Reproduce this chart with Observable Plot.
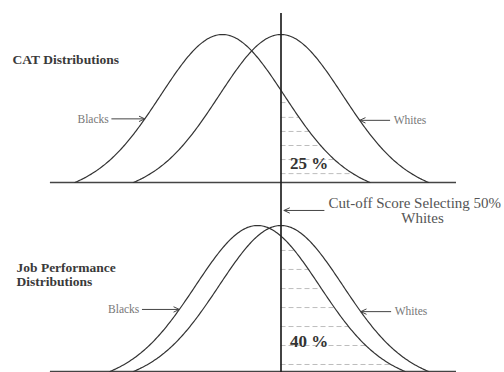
<!DOCTYPE html>
<html><head><meta charset="utf-8">
<script src="https://cdn.jsdelivr.net/npm/d3@7"></script>
<script src="https://cdn.jsdelivr.net/npm/@observablehq/plot@0.6"></script>
<style>
html,body{margin:0;padding:0;background:#fff;}
#chart svg{display:block;}
</style></head><body><div id="chart"></div>
<script>
// ---- data (x in standard-deviation units, relative to the cut-off score) ----
const panelTitles = ["CAT Distributions", "Job Performance\nDistributions"];
const groups = ["Blacks", "Whites"];
const catMeans = [-0.96, 0];
const jobMeans = [-0.385, 0];
const cutoff = 0;
const tail = 2.42;                 // curves drawn to ±tail SD
const axisExtent = [-3.78, 2.877]; // baseline extent (SD units)
const catPercent = "25 %";
const jobPercent = "40 %";
const catDashLevels = [0.06, 0.155, 0.25, 0.345, 0.44, 0.54];
const jobDashLevels = [0.048, 0.178, 0.308, 0.438, 0.568, 0.699, 0.829];
const cutoffLabel = ["Cut-off Score Selecting 50%", "Whites"];
const catArrowLevels = [0.43, 0.42];
const jobArrowLevels = [0.425, 0.41];

// ---- helpers ----
const pxPerSD = 61;
const c = Math.exp(-tail * tail / 2);
const g = z => Math.exp(-z * z / 2) - c * (z / tail) ** 2;
function inv(v) { // z >= 0 with g(z) = v
  let lo = 0, hi = tail;
  for (let i = 0; i < 60; i++) { const m = (lo + hi) / 2; if (g(m) > v) lo = m; else hi = m; }
  return (lo + hi) / 2;
}
function curves(means) {
  const pts = [];
  means.forEach((m, i) => {
    for (let k = 0; k <= 240; k++) {
      const z = -tail + 2 * tail * k / 240;
      pts.push({group: groups[i], x: m + z, y: Math.max(0, g(z))});
    }
  });
  return pts;
}
const font = "Liberation Serif, Times New Roman, serif";
const xDomain = [-280.5 / pxPerSD, 223.5 / pxPerSD];

function panel({means, dashLevels, arrowLevels, height, yRange, pct, pctY, title, titleDx, titleDy, ruleTop, extra, blackTail, whiteTail}) {
  const bTip = means[0] - inv(arrowLevels[0]);
  const wTip = means[1] + inv(arrowLevels[1]);
  const blackArrow = [{x1: bTip - blackTail / pxPerSD, x2: bTip, y: arrowLevels[0], label: groups[0]}];
  const whiteArrow = [{x1: wTip + whiteTail / pxPerSD, x2: wTip, y: arrowLevels[1], label: groups[1]}];
  const arrows = blackArrow.concat(whiteArrow);
  return Plot.plot({
    width: 504, height, margin: 0,
    style: {fontFamily: font, background: "#fff"},
    x: {domain: xDomain, axis: null},
    y: {domain: [0, 1], range: yRange, axis: null},
    marks: [
      Plot.ruleY(dashLevels, {y: d => d, x1: cutoff, x2: d => means[0] + inv(d), stroke: "#bdbdbd", strokeWidth: 1, strokeDasharray: "5,3"}),
      Plot.ruleY([0], {x1: axisExtent[0], x2: axisExtent[1], stroke: "#444", strokeWidth: 1.3}),
      Plot.line(curves(means), {x: "x", y: "y", z: "group", stroke: "#333", strokeWidth: 1.2}),
      ruleTop == null
        ? Plot.ruleX([cutoff], {stroke: "#222", strokeWidth: 1.7})
        : Plot.ruleX([cutoff], {y1: ruleTop, y2: -0.05, stroke: "#222", strokeWidth: 1.7}),
      Plot.arrow(arrows, {x1: "x1", x2: "x2", y1: "y", y2: "y", stroke: "#444", strokeWidth: 1, headLength: 9, headAngle: 50}),
      Plot.text(blackArrow, {x: "x1", y: "y", text: "label", textAnchor: "end", dx: -3, fill: "#777", fontSize: 11.5}),
      Plot.text(whiteArrow, {x: "x1", y: "y", text: "label", textAnchor: "start", dx: 4, fill: "#777", fontSize: 11.5}),
      Plot.text([pct], {x: cutoff, y: pctY, text: d => d, textAnchor: "start", dx: 9, fontSize: 17, fontWeight: "bold", fill: "#333"}),
      Plot.text([title], {frameAnchor: "top-left", dx: titleDx, dy: titleDy, text: d => d, textAnchor: "start", lineAnchor: "middle", fontSize: 13.5, fontWeight: "bold", fill: "#3a3a3a", lineHeight: 1.04}),
      ...(extra || [])
    ]
  });
}

const topPanel = panel({
  means: catMeans, dashLevels: catDashLevels, arrowLevels: catArrowLevels,
  height: 185, yRange: [182, 34], pct: catPercent, pctY: 0.128,
  title: panelTitles[0], titleDx: 12, titleDy: 59, ruleTop: (182 - 13) / 148,
  blackTail: 33, whiteTail: 30
});

const bottomPanel = panel({
  means: jobMeans, dashLevels: jobDashLevels, arrowLevels: jobArrowLevels,
  height: 187, yRange: [186, 40], pct: jobPercent, pctY: 0.205,
  title: panelTitles[1], titleDx: 16, titleDy: 89, ruleTop: null,
  blackTail: 37, whiteTail: 30,
  extra: [
    Plot.arrow([cutoffLabel[0]], {x1: cutoff + 43 / pxPerSD, x2: cutoff + 3 / pxPerSD, y1: 1.103, y2: 1.103, stroke: "#444", strokeWidth: 1, headLength: 9, headAngle: 50}),
    Plot.text([cutoffLabel[0]], {x: cutoff + 47.5 / pxPerSD, y: 1.151, text: d => d, textAnchor: "start", fontSize: 15, fill: "#555"}),
    Plot.text([cutoffLabel[1]], {x: cutoff + 141.5 / pxPerSD, y: 1.048, text: d => d, textAnchor: "middle", fontSize: 15, fill: "#555"})
  ]
});

document.getElementById("chart").append(topPanel, bottomPanel);
</script></body></html>
